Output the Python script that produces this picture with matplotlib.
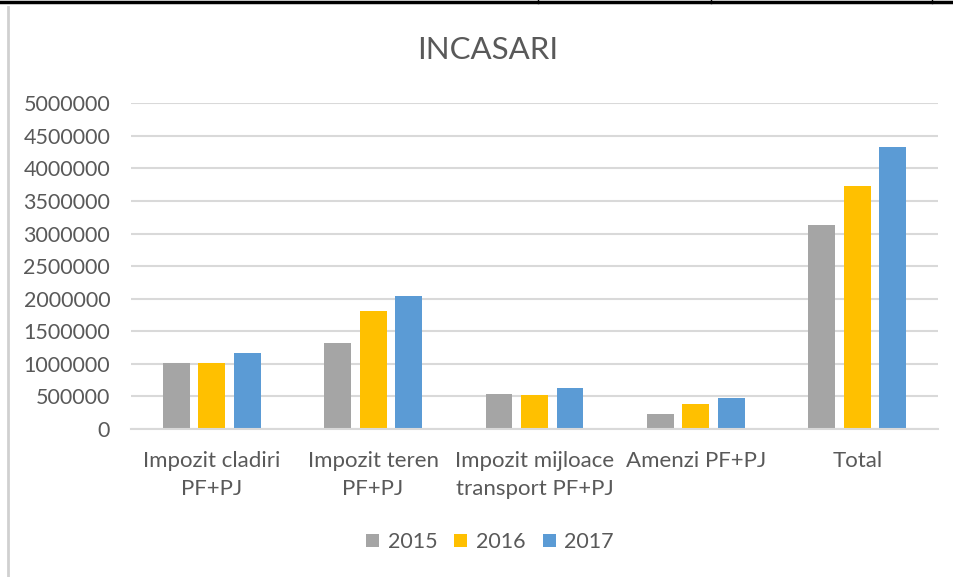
import matplotlib
matplotlib.use("Agg")
import matplotlib.pyplot as plt
from matplotlib.lines import Line2D
import numpy as np

categories = [
    "Impozit cladiri\nPF+PJ",
    "Impozit teren\nPF+PJ",
    "Impozit mijloace\ntransport PF+PJ",
    "Amenzi PF+PJ",
    "Total",
]
years = ["2015", "2016", "2017"]
v2015 = [1018000, 1315000, 537000, 235000, 3132000]
v2016 = [1018000, 1811000, 517000, 379000, 3735000]
v2017 = [1162000, 2042000, 634000, 481000, 4324000]
yticks = [0, 500000, 1000000, 1500000, 2000000, 2500000,
          3000000, 3500000, 4000000, 4500000, 5000000]

colors = ["#A5A5A5", "#FFC000", "#5B9BD5"]
text_col = "#595959"
grid_col = "#D9D9D9"

plt.rcParams["font.family"] = ["Lato", "DejaVu Sans"]

fig = plt.figure(figsize=(9.54, 5.77), dpi=100)
ax = fig.add_axes([131 / 954, 1 - 429 / 577, (938 - 131) / 954, (429 - 103.3) / 577])

x = np.arange(len(categories))
w = 0.167
step = 0.22
for i, (vals, lab) in enumerate(zip([v2015, v2016, v2017], years)):
    ax.bar(x + (i - 1) * step, vals, width=w, color=colors[i], label=lab, zorder=3)

ax.set_xlim(-0.5, len(categories) - 0.5)
ax.set_ylim(0, 5000000)
ax.set_yticks(yticks)
ax.set_yticklabels([str(t) for t in yticks])
ax.set_xticks(x)
ax.set_xticklabels(categories)
ax.grid(axis="y", color=grid_col, linewidth=1.5, zorder=0)
for s in ["top", "right", "left"]:
    ax.spines[s].set_visible(False)
ax.spines["bottom"].set_color(grid_col)
ax.spines["bottom"].set_linewidth(1.5)
ax.spines["bottom"].set_zorder(4)
ax.tick_params(axis="both", length=0, colors=text_col)
ax.tick_params(axis="y", pad=15, labelsize=15.5)
ax.tick_params(axis="x", pad=16, labelsize=16)
for lbl in ax.get_xticklabels():
    lbl.set_linespacing(1.5)

fig.text(0.511, 1 - 50 / 577, "INCASARI", ha="center", va="center",
         fontsize=22.5, color=text_col)

ax.legend(loc="center", bbox_to_anchor=(490 / 954, 1 - 542 / 577),
          bbox_transform=fig.transFigure, ncol=3, frameon=False,
          fontsize=15.5, labelcolor=text_col, handlelength=0.6,
          handleheight=0.6, handletextpad=0.4, columnspacing=0.8)

# chart frame (left edge) and table lines above
fig.add_artist(Line2D([8 / 954, 8 / 954], [0, 1 - 7 / 577],
                      color="#D0D0D0", linewidth=2))
fig.add_artist(Line2D([0, 1], [1 - 2 / 577, 1 - 2 / 577],
                      color="black", linewidth=2.5))
for xv in [538, 711, 932]:
    fig.add_artist(Line2D([xv / 954, xv / 954], [1 - 3 / 577, 1],
                          color="black", linewidth=1))

fig.savefig("out.png", dpi=100, facecolor="white")
